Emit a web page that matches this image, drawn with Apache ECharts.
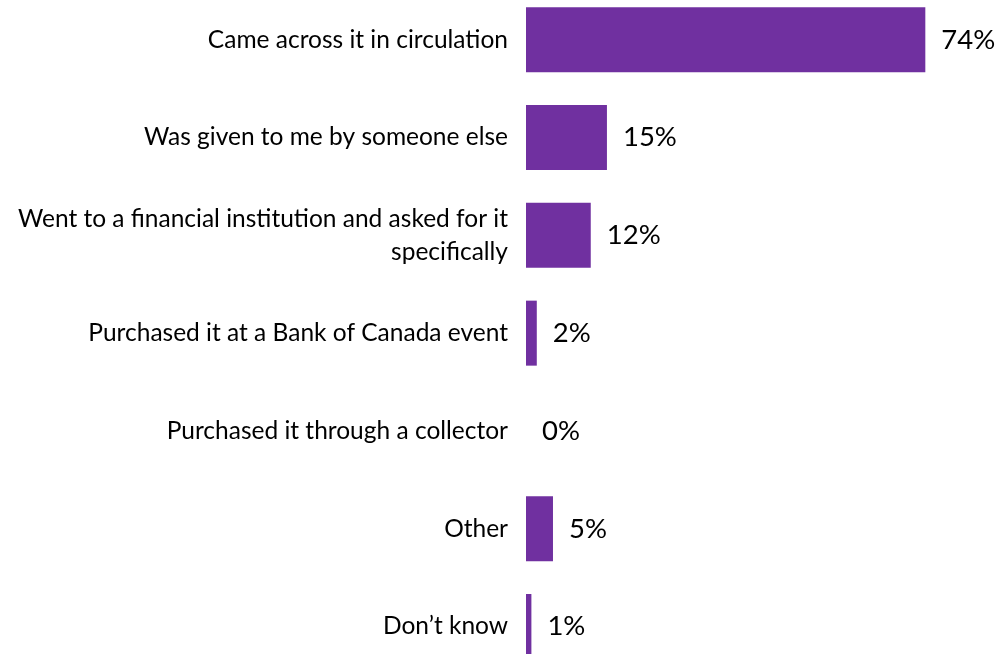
<!DOCTYPE html>
<html>
<head>
<meta charset="utf-8">
<script src="https://cdn.jsdelivr.net/npm/echarts@6/dist/echarts.min.js"></script>
<style>
  html, body { margin: 0; padding: 0; background: #ffffff; }
  #chart { width: 996px; height: 654px; }
</style>
</head>
<body>
<div id="chart"></div>
<script>
// How the note was obtained (share of respondents, %)
const categories = [
  'Came across it in circulation',
  'Was given to me by someone else',
  'Went to a financial institution and asked for it\nspecifically',
  'Purchased it at a Bank of Canada event',
  'Purchased it through a collector',
  'Other',
  'Don\u2019t know'
];
const shares = [74, 15, 12, 2, 0, 5, 1];

const chart = echarts.init(document.getElementById('chart'));
chart.setOption({
  backgroundColor: '#ffffff',
  animation: false,
  // category ticks sit on the grid edges (boundaryGap: false), so top/bottom are the first/last bar centres
  grid: { left: 526, right: 38.3, top: 39.8, bottom: 27.5, containLabel: false },
  xAxis: {
    type: 'value',
    min: 0,
    max: 80,
    show: false,
    splitLine: { show: false }
  },
  yAxis: {
    type: 'category',
    data: categories,
    inverse: true,
    boundaryGap: false,
    axisLine: { show: false },
    axisTick: { show: false },
    splitLine: { show: false },
    axisLabel: {
      margin: 18,
      color: '#000000',
      fontFamily: 'Lato',
      fontSize: 24.5,
      lineHeight: 33,
      align: 'right'
    }
  },
  series: [{
    type: 'bar',
    data: shares,
    barWidth: 65,
    itemStyle: { color: '#7030A0' },
    label: {
      show: true,
      position: 'right',
      distance: 16,
      color: '#000000',
      fontFamily: 'Lato',
      fontSize: 27.5,
      formatter: p => p.value + '%'
    }
  }]
});
</script>
</body>
</html>
